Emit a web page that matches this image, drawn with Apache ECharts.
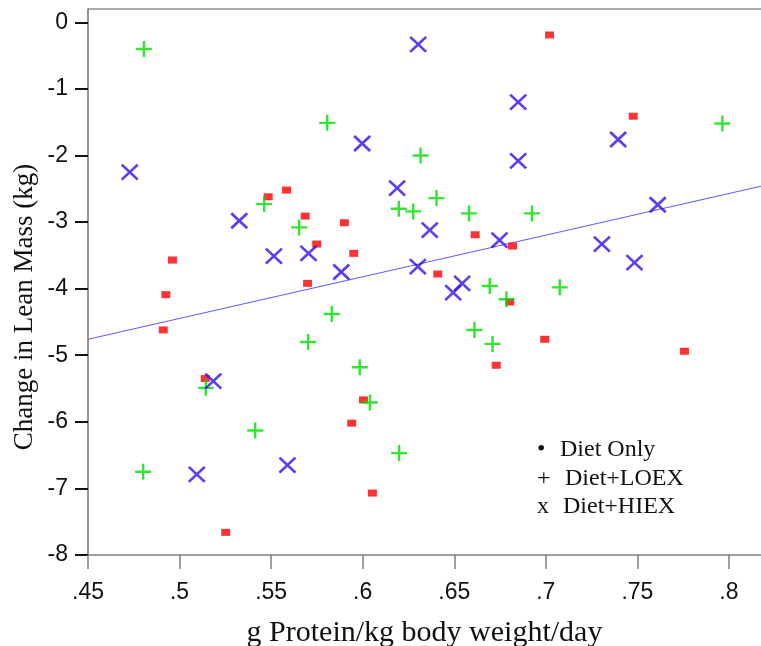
<!DOCTYPE html>
<html>
<head>
<meta charset="utf-8">
<script src="https://cdn.jsdelivr.net/npm/echarts@6/dist/echarts.min.js"></script>
<style>
html,body{margin:0;padding:0;background:#fff;overflow:hidden;}
#chart{width:761px;height:646px;}
</style>
</head>
<body>
<div id="chart"></div>
<script>
// ---- Data ----
const dietOnly = [
  [0.5484,-2.62],[0.5584,-2.52],[0.5686,-2.91],[0.5900,-3.01],[0.5749,-3.33],
  [0.5951,-3.47],[0.5699,-3.92],[0.4961,-3.57],[0.4925,-4.09],[0.4911,-4.62],
  [0.5140,-5.35],[0.6004,-5.67],[0.5940,-6.02],[0.6053,-7.07],[0.5252,-7.66],
  [0.7020,-0.19],[0.7477,-1.41],[0.6614,-3.19],[0.6818,-3.36],[0.6410,-3.78],
  [0.6803,-4.20],[0.6994,-4.76],[0.6729,-5.15],[0.7757,-4.94]
];
const dietLOEX = [
  [0.4805,-0.40],[0.5806,-1.51],[0.6316,-2.00],[0.6197,-2.80],[0.6276,-2.84],
  [0.5462,-2.73],[0.5653,-3.08],[0.6403,-2.64],[0.6581,-2.87],[0.6924,-2.87],
  [0.6694,-3.96],[0.7076,-3.98],[0.6785,-4.16],[0.6610,-4.62],[0.6709,-4.83],
  [0.7964,-1.52],[0.5831,-4.38],[0.5702,-4.80],[0.5984,-5.18],[0.5143,-5.49],
  [0.6039,-5.71],[0.5413,-6.13],[0.6199,-6.47],[0.4801,-6.75]
];
const dietHIEX = [
  [0.4728,-2.25],[0.5997,-1.82],[0.6303,-0.33],[0.6188,-2.49],[0.5326,-2.98],
  [0.5515,-3.51],[0.5704,-3.47],[0.5883,-3.75],[0.6301,-3.67],[0.6849,-1.20],
  [0.7395,-1.76],[0.6849,-2.08],[0.6366,-3.12],[0.7611,-2.74],[0.6747,-3.27],
  [0.7306,-3.33],[0.7484,-3.61],[0.6543,-3.92],[0.6494,-4.06],[0.5184,-5.39],
  [0.5589,-6.65],[0.5094,-6.79]
];
const fitLine = [[0.45,-4.76],[0.8177,-2.46]];
const xTicks = [0.45,0.5,0.55,0.6,0.65,0.7,0.75,0.8];
const yTicks = [-8,-7,-6,-5,-4,-3,-2,-1,0];
const legendSymbols = ['•','+','x'];
const legendLabels = ['Diet Only','Diet+LOEX','Diet+HIEX'];
const xName = 'g Protein/kg body weight/day';
const yName = 'Change in Lean Mass (kg)';

// ---- Styles ----
const RED = '#ff0000', GREEN = '#00dd00', BLUE = '#2f0ff0';
const serif = '"Liberation Serif","Times New Roman",serif';
const sans = '"Liberation Sans",Arial,sans-serif';

function near(v, arr){ return arr.some(t => Math.abs(t - v) < 1e-6); }
function fmtX(v){ return near(v, xTicks) ? String(+v.toFixed(2)).replace(/^0/, '') : ''; }
function fmtY(v){ return near(v, yTicks) ? String(Math.round(v)) : ''; }

const chart = echarts.init(document.getElementById('chart'));
const legendGraphics = [];
const legendY = [450, 479, 507];
const legendLabelX = [560, 565, 563];
legendSymbols.forEach((s, i) => {
  legendGraphics.push({
    type: 'text', x: 537, y: legendY[i],
    style: { text: s, font: '24px ' + serif, fill: '#111', verticalAlign: 'middle' }
  });
  legendGraphics.push({
    type: 'text', x: legendLabelX[i], y: legendY[i],
    style: { text: legendLabels[i], font: '24px ' + serif, fill: '#111', verticalAlign: 'middle' }
  });
});

chart.setOption({
  animation: false,
  backgroundColor: '#fff',
  grid: { left: 88, right: 0, top: 9, bottom: 91, containLabel: false, outerBoundsMode: 'none' },
  xAxis: {
    type: 'value', min: 0.45, max: 0.8175, interval: 0.05,
    name: xName, nameLocation: 'middle', nameGap: 63,
    nameTextStyle: { fontFamily: serif, fontSize: 30, color: '#111' },
    axisLine: { show: true, onZero: false, lineStyle: { color: '#808080', width: 1.5 } },
    axisTick: { show: true, inside: false, length: 14, lineStyle: { color: '#808080', width: 1.5 }, customValues: xTicks },
    axisLabel: { margin: 26, fontFamily: sans, fontSize: 23, color: '#111', formatter: fmtX, customValues: xTicks },
    splitLine: { show: false }
  },
  yAxis: {
    type: 'value', min: -8, max: 0.2, interval: 1,
    axisLine: { show: true, onZero: false, lineStyle: { color: '#707070', width: 1.5 } },
    axisTick: { show: true, inside: false, length: 13, lineStyle: { color: '#111', width: 2 }, customValues: yTicks },
    axisLabel: { margin: 20, fontFamily: sans, fontSize: 23, color: '#111', formatter: fmtY, customValues: yTicks },
    splitLine: { show: false }
  },
  graphic: [
    { type: 'line', shape: { x1: 88, y1: 9, x2: 761, y2: 9 }, style: { stroke: '#909090', lineWidth: 1.5 }, silent: true },
    { type: 'text', x: 25, y: 307, rotation: Math.PI / 2,
      style: { text: yName, font: '27px ' + serif, fill: '#111', align: 'center', verticalAlign: 'middle' } }
  ].concat(legendGraphics),
  series: [
    {
      type: 'line', data: fitLine, symbol: 'none', silent: true,
      lineStyle: { color: '#5a5aff', width: 1 }, z: 1
    },
    {
      name: 'Diet Only', type: 'scatter', data: dietOnly,
      symbol: 'rect', symbolSize: [9, 7],
      itemStyle: { color: RED }, z: 3
    },
    {
      name: 'Diet+LOEX', type: 'scatter', data: dietLOEX,
      symbol: 'path://M0,8L16,8M8,0L8,16', symbolSize: 16,
      itemStyle: { color: 'rgba(0,0,0,0)', borderColor: GREEN, borderWidth: 2.4 }, z: 3
    },
    {
      name: 'Diet+HIEX', type: 'scatter', data: dietHIEX,
      symbol: 'path://M0,0L16,16M16,0L0,16', symbolSize: [16, 15],
      itemStyle: { color: 'rgba(0,0,0,0)', borderColor: BLUE, borderWidth: 2.6 }, z: 3
    }
  ]
});
</script>
</body>
</html>
